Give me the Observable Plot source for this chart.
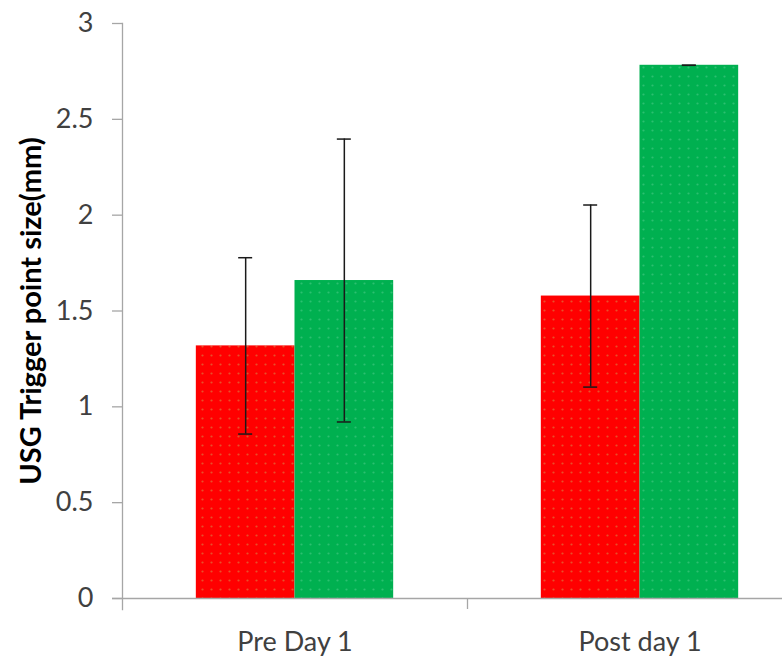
<!DOCTYPE html>
<html>
<head>
<meta charset="utf-8">
<script src="https://cdn.jsdelivr.net/npm/d3@7"></script>
<script src="https://cdn.jsdelivr.net/npm/@observablehq/plot@0.6"></script>
<style>
  html, body { margin: 0; padding: 0; background: #fff; }
  #chart svg { display: block; font-family: Lato, "Open Sans", sans-serif; }
</style>
</head>
<body>
<div id="chart"></div>
<script>
const categories = ["Pre Day 1", "Post day 1"];
const redMeans = [1.318, 1.578];
const redErr = [0.46, 0.475];
const greenMeans = [1.659, 2.782];
const greenErr = [0.738, 0];
const yTicks = [0, 0.5, 1, 1.5, 2, 2.5, 3];
const yLabel = "USG Trigger point size(mm)";

const redRows = categories.map((c, i) => ({cat: c, v: redMeans[i], lo: redMeans[i] - redErr[i], hi: redMeans[i] + redErr[i]}));
const greenRows = categories.map((c, i) => ({cat: c, v: greenMeans[i], lo: greenMeans[i] - greenErr[i], hi: greenMeans[i] + greenErr[i]}));

const W = 782, H = 658, ML = 122, MT = 23, MB = 60;
const xStart = ML, xEnd = 812;
const bw = (xEnd - xStart) / categories.length;   // band width
const barW = bw * 0.286;
const gap = (bw - 2 * barW) / 2;
const axisGray = "#a6a6a6";
const textCol = "#404040";
const errCol = "#1a1a1a";

const chart = Plot.plot({
  width: W, height: H,
  marginLeft: ML, marginRight: 0, marginTop: MT, marginBottom: MB,
  x: {domain: categories, range: [xStart, xEnd], padding: 0},
  y: {domain: [0, 3]},
  marks: [
    Plot.barY(redRows, {x: "cat", y: "v", fill: "url(#dotRed)", insetLeft: gap, insetRight: gap + barW}),
    Plot.barY(greenRows, {x: "cat", y: "v", fill: "url(#dotGreen)", insetLeft: gap + barW, insetRight: gap}),
    // error bars
    Plot.ruleX(redRows, {x: "cat", y1: "lo", y2: "hi", dx: gap + barW / 2 - bw / 2, stroke: errCol, strokeWidth: 1.5}),
    Plot.ruleX(greenRows, {x: "cat", y1: "lo", y2: "hi", dx: gap + 1.5 * barW - bw / 2, stroke: errCol, strokeWidth: 1.5}),
    Plot.tickY(redRows, {x: "cat", y: "lo", insetLeft: gap + barW / 2 - 7, insetRight: gap + 1.5 * barW - 7, stroke: errCol, strokeWidth: 1.5}),
    Plot.tickY(redRows, {x: "cat", y: "hi", insetLeft: gap + barW / 2 - 7, insetRight: gap + 1.5 * barW - 7, stroke: errCol, strokeWidth: 1.5}),
    Plot.tickY(greenRows, {x: "cat", y: "lo", insetLeft: gap + 1.5 * barW - 7, insetRight: gap + barW / 2 - 7, stroke: errCol, strokeWidth: 1.5}),
    Plot.tickY(greenRows, {x: "cat", y: "hi", insetLeft: gap + 1.5 * barW - 7, insetRight: gap + barW / 2 - 7, stroke: errCol, strokeWidth: 1.5}),
    // axes
    Plot.ruleY([0], {stroke: axisGray, strokeWidth: 1.3, insetLeft: -10}),
    Plot.frame({anchor: "left", stroke: axisGray, strokeWidth: 1.3, insetBottom: -11}),
    Plot.ruleX(categories.slice(1), {x: d => d, dx: -bw / 2, insetTop: H - MT - MB, insetBottom: -11, stroke: axisGray, strokeWidth: 1.3}),
    Plot.axisY({ticks: yTicks, tickFormat: d => String(d), tickSize: 10, tickPadding: 19, fontSize: 27, stroke: axisGray, fill: textCol, strokeWidth: 1.3, label: null}),
    Plot.axisX({tickSize: 0, tickPadding: 33, fontSize: 27, fill: textCol, label: null}),
    Plot.text([yLabel], {frameAnchor: "left", textAnchor: "middle", rotate: -90, dx: -91, fontWeight: "bold", fontSize: 29, fill: "#000"})
  ]
});

// dotted fill patterns
const svg = d3.select(chart);
const defs = svg.insert("defs", ":first-child");
function pat(id, base, dot) {
  const p = defs.append("pattern").attr("id", id).attr("patternUnits", "userSpaceOnUse")
    .attr("width", 9).attr("height", 9);
  p.append("rect").attr("width", 9).attr("height", 9).attr("fill", base);
  p.append("circle").attr("cx", 4.5).attr("cy", 4.5).attr("r", 1.1).attr("fill", dot);
}
pat("dotRed", "#ff0000", "#e8502a");
pat("dotGreen", "#00b050", "#2cc070");

document.getElementById("chart").appendChild(chart);
</script>
</body>
</html>
